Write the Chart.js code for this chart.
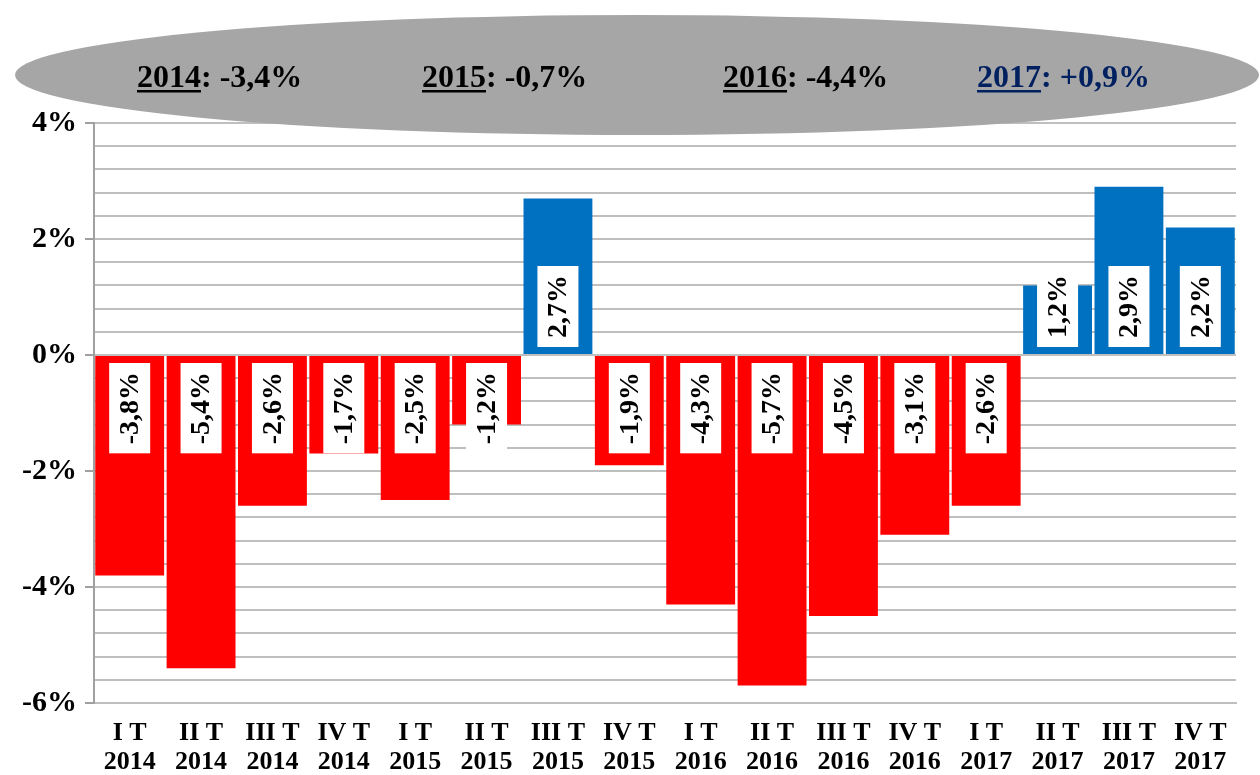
<!DOCTYPE html>
<html>
<head>
<meta charset="utf-8">
<script src="https://cdn.jsdelivr.net/npm/chart.js@4/dist/chart.umd.min.js"></script>
<style>
html,body{margin:0;padding:0;background:#fff;}
#wrap{width:1260px;height:775px;position:relative;}
</style>
</head>
<body>
<div id="wrap"><canvas id="c"></canvas></div>
<script>
const quarterLabels = [["I T","2014"],["II T","2014"],["III T","2014"],["IV T","2014"],
  ["I T","2015"],["II T","2015"],["III T","2015"],["IV T","2015"],
  ["I T","2016"],["II T","2016"],["III T","2016"],["IV T","2016"],
  ["I T","2017"],["II T","2017"],["III T","2017"],["IV T","2017"]];
const values = [-3.8,-5.4,-2.6,-1.7,-2.5,-1.2,2.7,-1.9,-4.3,-5.7,-4.5,-3.1,-2.6,1.2,2.9,2.2];
const yearLabels = ["2014","2015","2016","2017"];
const yearValues = ["-3,4%","-0,7%","-4,4%","+0,9%"];
const yearColors = ["#000000","#000000","#000000","#002060"];

const SERIF = '"Liberation Serif","Times New Roman",serif';
const fmt = v => v.toFixed(1).replace('.', ',') + '%';
const isMajor = v => Math.abs(Math.round(v*10) % 20) === 0;

const barLabelPlugin = {
  id: 'barLabels',
  afterDatasetsDraw(chart) {
    const ctx = chart.ctx;
    const meta = chart.getDatasetMeta(0);
    const y0 = chart.scales.y.getPixelForValue(0);
    ctx.save();
    ctx.font = 'bold 28px ' + SERIF;
    meta.data.forEach((bar, i) => {
      const v = values[i];
      const text = fmt(v);
      const tw = ctx.measureText(text).width;
      const h = tw + 18;
      const w = 41;
      let top;
      if (v < 0) top = y0 + 8; else top = y0 - 8 - h;
      ctx.fillStyle = '#ffffff';
      ctx.fillRect(bar.x - w/2, top, w, h);
      ctx.save();
      ctx.translate(bar.x, top + h/2);
      ctx.rotate(-Math.PI/2);
      ctx.fillStyle = '#000000';
      ctx.textAlign = 'center';
      ctx.textBaseline = 'middle';
      ctx.fillText(text, 0, 1);
      ctx.restore();
    });
    ctx.restore();
  }
};

const ellipsePlugin = {
  id: 'ellipse',
  afterDraw(chart) {
    const ctx = chart.ctx;
    ctx.save();
    ctx.fillStyle = '#a6a6a6';
    ctx.beginPath();
    ctx.ellipse(637, 75, 622, 60, 0, 0, Math.PI*2);
    ctx.fill();
    const xs = [137, 422, 723, 977];
    const baseline = 87;
    ctx.font = 'bold 32px ' + SERIF;
    ctx.textBaseline = 'alphabetic';
    ctx.textAlign = 'left';
    yearLabels.forEach((yr, i) => {
      ctx.fillStyle = yearColors[i];
      ctx.fillText(yr, xs[i], baseline);
      const wy = ctx.measureText(yr).width;
      ctx.fillRect(xs[i], baseline + 3, wy, 2.5);
      ctx.fillText(': ' + yearValues[i], xs[i] + wy, baseline);
    });
    ctx.restore();
  }
};

new Chart(document.getElementById('c'), {
  type: 'bar',
  data: {
    labels: quarterLabels,
    datasets: [{
      data: values,
      backgroundColor: values.map(v => v < 0 ? '#ff0000' : '#0070c0'),
      borderWidth: 0,
      barPercentage: 0.965,
      categoryPercentage: 1.0
    }]
  },
  options: {
    responsive: true,
    maintainAspectRatio: false,
    animation: false,
    devicePixelRatio: 1,
    layout: { padding: { top: 123, right: 24, bottom: 0, left: 0 } },
    plugins: { legend: { display: false }, tooltip: { enabled: false } },
    scales: {
      x: {
        grid: { display: false },
        border: { display: true, color: '#bfbfbf', width: 2 },
        ticks: {
          color: '#000',
          font: { family: SERIF, size: 26, weight: 'bold', lineHeight: 1.12 },
          padding: 8,
          maxRotation: 0,
          autoSkip: false
        },
        afterFit(scale) { scale.height = 72; }
      },
      y: {
        min: -6, max: 4,
        afterBuildTicks(scale) {
          const t = [];
          for (let k = 0; k <= 25; k++) t.push({ value: Math.round((-6 + k*0.4)*10)/10 });
          scale.ticks = t;
        },
        grid: {
          color: '#bfbfbf',
          lineWidth: 2,
          tickLength: 9,
          tickColor: (c) => (c.tick && isMajor(c.tick.value)) ? '#a0a0a0' : 'rgba(0,0,0,0)'
        },
        border: { display: true, color: '#a0a0a0', width: 2 },
        ticks: {
          color: '#000',
          font: { family: SERIF, size: 30, weight: 'bold' },
          padding: 8,
          autoSkip: false,
          callback: (v) => isMajor(v) ? (Math.round(v) + '%') : ''
        },
        afterFit(scale) { scale.width = 94; }
      }
    }
  },
  plugins: [barLabelPlugin, ellipsePlugin]
});
</script>
</body>
</html>
